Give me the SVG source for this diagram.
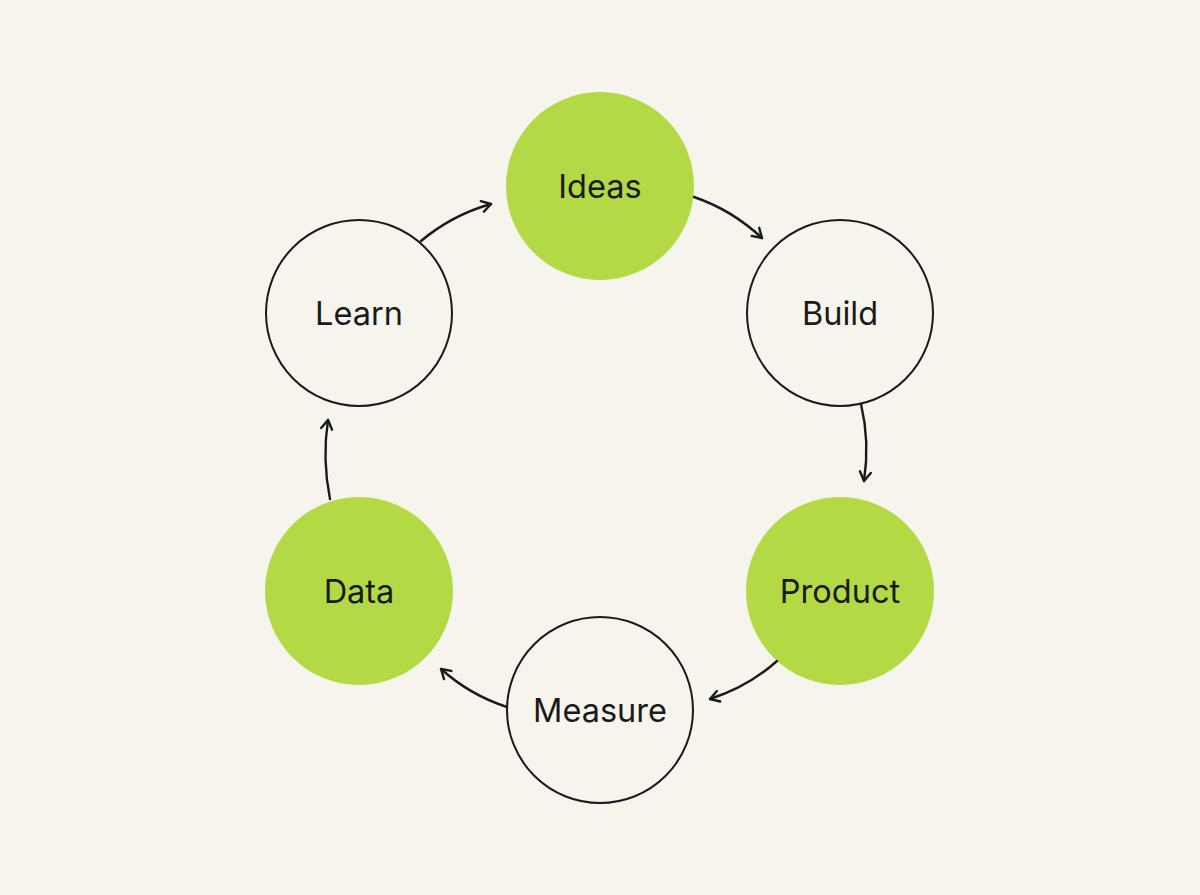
<svg xmlns="http://www.w3.org/2000/svg" width="1200" height="895" viewBox="0 0 1200 895">
<defs>
<style>
.green{fill:#b3d945;}
.white{fill:none;stroke:#1a1a1a;stroke-width:2;}
.lbl{font-family:Inter,"Noto Sans",sans-serif;font-size:32.5px;fill:#1a1a1a;text-anchor:middle;dominant-baseline:central;}
.conn{fill:none;stroke:#1a1a1a;stroke-width:2.4;stroke-linecap:round;marker-end:url(#arr);}
</style>
<marker id="arr" viewBox="0 0 14 14" refX="12" refY="7" markerWidth="14" markerHeight="14" markerUnits="userSpaceOnUse" orient="auto">
<path d="M3,1.5 L12,7 L3,12.5" fill="none" stroke="#1a1a1a" stroke-width="2.4" stroke-linecap="round" stroke-linejoin="round"/>
</marker>
</defs>
<rect width="1200" height="895" fill="#f7f4ed"/>
<g id="ideas"><circle class="green" cx="600" cy="186" r="94"/><text class="lbl" x="600" y="186">Ideas</text></g>
<g id="build"><circle class="white" cx="840" cy="313" r="93"/><text class="lbl" x="840" y="313">Build</text></g>
<g id="product"><circle class="green" cx="840" cy="591" r="94"/><text class="lbl" x="840" y="591">Product</text></g>
<g id="measure"><circle class="white" cx="600" cy="710" r="93"/><text class="lbl" x="600" y="710">Measure</text></g>
<g id="data"><circle class="green" cx="359" cy="591" r="94"/><text class="lbl" x="359" y="591">Data</text></g>
<g id="learn"><circle class="white" cx="359" cy="313" r="93"/><text class="lbl" x="359" y="313">Learn</text></g>
<g id="connectors">
<path class="conn" d="M421,241 Q452,215 491,204"/>
<path class="conn" d="M694,197 Q732,210 762,238"/>
<path class="conn" d="M861,404 Q870,442 864,481"/>
<path class="conn" d="M777,661 Q748,687 710,699"/>
<path class="conn" d="M507,707 Q470,695 441,669"/>
<path class="conn" d="M330,499 Q322,459 328,420"/>
</g>
</svg>
